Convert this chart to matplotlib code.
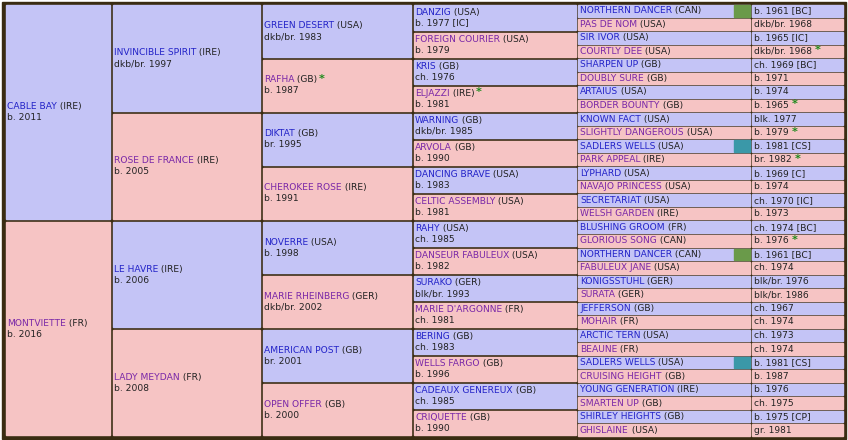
import matplotlib
matplotlib.use("Agg")
import matplotlib.pyplot as plt
from matplotlib.patches import Rectangle

W, H = 848, 440
gen1 = [("CABLE BAY", "(IRE)", "b. 2011", "M", False), ("MONTVIETTE", "(FR)", "b. 2016", "F", False)]
gen2 = [("INVINCIBLE SPIRIT", "(IRE)", "dkb/br. 1997", "M", False), ("ROSE DE FRANCE", "(IRE)", "b. 2005", "F", False),
        ("LE HAVRE", "(IRE)", "b. 2006", "M", False), ("LADY MEYDAN", "(FR)", "b. 2008", "F", False)]
gen3 = [("GREEN DESERT", "(USA)", "dkb/br. 1983", "M", False), ("RAFHA", "(GB)", "b. 1987", "F", True),
        ("DIKTAT", "(GB)", "br. 1995", "M", False), ("CHEROKEE ROSE", "(IRE)", "b. 1991", "F", False),
        ("NOVERRE", "(USA)", "b. 1998", "M", False), ("MARIE RHEINBERG", "(GER)", "dkb/br. 2002", "F", False),
        ("AMERICAN POST", "(GB)", "br. 2001", "M", False), ("OPEN OFFER", "(GB)", "b. 2000", "F", False)]
gen4 = [("DANZIG", "(USA)", "b. 1977 [IC]", "M", False), ("FOREIGN COURIER", "(USA)", "b. 1979", "F", False),
        ("KRIS", "(GB)", "ch. 1976", "M", False), ("ELJAZZI", "(IRE)", "b. 1981", "F", True),
        ("WARNING", "(GB)", "dkb/br. 1985", "M", False), ("ARVOLA", "(GB)", "b. 1990", "F", False),
        ("DANCING BRAVE", "(USA)", "b. 1983", "M", False), ("CELTIC ASSEMBLY", "(USA)", "b. 1981", "F", False),
        ("RAHY", "(USA)", "ch. 1985", "M", False), ("DANSEUR FABULEUX", "(USA)", "b. 1982", "F", False),
        ("SURAKO", "(GER)", "blk/br. 1993", "M", False), ("MARIE D'ARGONNE", "(FR)", "ch. 1981", "F", False),
        ("BERING", "(GB)", "ch. 1983", "M", False), ("WELLS FARGO", "(GB)", "b. 1996", "F", False),
        ("CADEAUX GENEREUX", "(GB)", "ch. 1985", "M", False), ("CRIQUETTE", "(GB)", "b. 1990", "F", False)]
gen5_names = ["NORTHERN DANCER", "PAS DE NOM", "SIR IVOR", "COURTLY DEE", "SHARPEN UP", "DOUBLY SURE",
              "ARTAIUS", "BORDER BOUNTY", "KNOWN FACT", "SLIGHTLY DANGEROUS", "SADLERS WELLS", "PARK APPEAL",
              "LYPHARD", "NAVAJO PRINCESS", "SECRETARIAT", "WELSH GARDEN", "BLUSHING GROOM", "GLORIOUS SONG",
              "NORTHERN DANCER", "FABULEUX JANE", "KONIGSSTUHL", "SURATA", "JEFFERSON", "MOHAIR",
              "ARCTIC TERN", "BEAUNE", "SADLERS WELLS", "CRUISING HEIGHT", "YOUNG GENERATION", "SMARTEN UP",
              "SHIRLEY HEIGHTS", "GHISLAINE"]
gen5_countries = ["(CAN)", "(USA)", "(USA)", "(USA)", "(GB)", "(GB)", "(USA)", "(GB)", "(USA)", "(USA)",
                  "(USA)", "(IRE)", "(USA)", "(USA)", "(USA)", "(IRE)", "(FR)", "(CAN)", "(CAN)", "(USA)",
                  "(GER)", "(GER)", "(GB)", "(FR)", "(USA)", "(FR)", "(USA)", "(GB)", "(IRE)", "(GB)", "(GB)", "(USA)"]
gen5_dates = ["b. 1961 [BC]", "dkb/br. 1968", "b. 1965 [IC]", "dkb/br. 1968", "ch. 1969 [BC]", "b. 1971",
              "b. 1974", "b. 1965", "blk. 1977", "b. 1979", "b. 1981 [CS]", "br. 1982", "b. 1969 [C]", "b. 1974",
              "ch. 1970 [IC]", "b. 1973", "ch. 1974 [BC]", "b. 1976", "b. 1961 [BC]", "ch. 1974",
              "blk/br. 1976", "blk/br. 1986", "ch. 1967", "ch. 1974", "ch. 1973", "ch. 1974", "b. 1981 [CS]",
              "b. 1987", "b. 1976", "ch. 1975", "b. 1975 [CP]", "gr. 1981"]
gen5_star = [3, 7, 9, 11, 17]
gen5_mark = {0: "#6a9a4a", 18: "#6a9a4a", 10: "#3a98a8", 26: "#3a98a8"}

MBG, FBG = "#c4c4f6", "#f6c4c4"
MCOL, FCOL = "#2424c8", "#7a28a8"
TXT = "#222222"
BORDER = "#3a2c12"
cols = [4, 111, 261, 412, 577, 751, 844]
top, bot = 4, 437
FS = 6.6

fig = plt.figure(figsize=(W / 100, H / 100), dpi=100)
ax = fig.add_axes([0, 0, 1, 1])
ax.set_xlim(0, W); ax.set_ylim(H, 0); ax.axis("off")
ax.add_patch(Rectangle((top - 2, top - 2), cols[-1] - top + 4, bot - top + 4, color=BORDER, zorder=0))
fig.canvas.draw()
rend = fig.canvas.get_renderer()

def cell(x0, x1, y0, y1, sex, g=1.5):
    ax.add_patch(Rectangle((x0 + g, y0 + g), x1 - x0 - 2 * g, y1 - y0 - 2 * g,
                           color=MBG if sex == "M" else FBG, zorder=1))

def nameline(x, y, name, country, sex, star):
    t = ax.text(x, y, name, color=MCOL if sex == "M" else FCOL, fontsize=FS, va="center", ha="left", zorder=3)
    bb = t.get_window_extent(rend)
    xe = ax.transData.inverted().transform((bb.x1, 0))[0]
    t2 = ax.text(xe, y, " " + country, color=TXT, fontsize=FS, va="center", ha="left", zorder=3)
    if star:
        bb = t2.get_window_extent(rend)
        xe = ax.transData.inverted().transform((bb.x1, 0))[0]
        ax.text(xe + 1, y - 1, "*", color="#1a8a1a", fontsize=FS + 1.5, fontweight="bold", va="center", ha="left", zorder=3)

for g, gen in enumerate([gen1, gen2, gen3, gen4]):
    n = len(gen)
    h = (bot - top) / n
    for i, (nm, ct, dt, sx, st) in enumerate(gen):
        y0 = top + i * h; y1 = y0 + h
        cell(cols[g], cols[g + 1], y0, y1, sx)
        yc = (y0 + y1) / 2
        nameline(cols[g] + 3, yc - 5.5, nm, ct, sx, st)
        ax.text(cols[g] + 3, yc + 5.5, dt, color=TXT, fontsize=FS, va="center", ha="left", zorder=3)

h = (bot - top) / 32
for i in range(32):
    y0 = top + i * h; y1 = y0 + h
    sx = "M" if i % 2 == 0 else "F"
    cell(cols[4], cols[5], y0, y1, sx, 1)
    cell(cols[5], cols[6], y0, y1, sx, 1)
    if i in gen5_mark:
        ax.add_patch(Rectangle((cols[5] - 17, y0 + 1), 16, h - 2, color=gen5_mark[i], zorder=2))
    yc = (y0 + y1) / 2
    nameline(cols[4] + 3, yc, gen5_names[i], gen5_countries[i], sx, False)
    t = ax.text(cols[5] + 3, yc, gen5_dates[i], color=TXT, fontsize=FS, va="center", ha="left", zorder=3)
    if i in gen5_star:
        bb = t.get_window_extent(rend)
        xe = ax.transData.inverted().transform((bb.x1, 0))[0]
        ax.text(xe + 3, yc - 1, "*", color="#1a8a1a", fontsize=FS + 1.5, fontweight="bold", va="center", ha="left", zorder=3)

fig.savefig("out.png", dpi=100, facecolor="white")
